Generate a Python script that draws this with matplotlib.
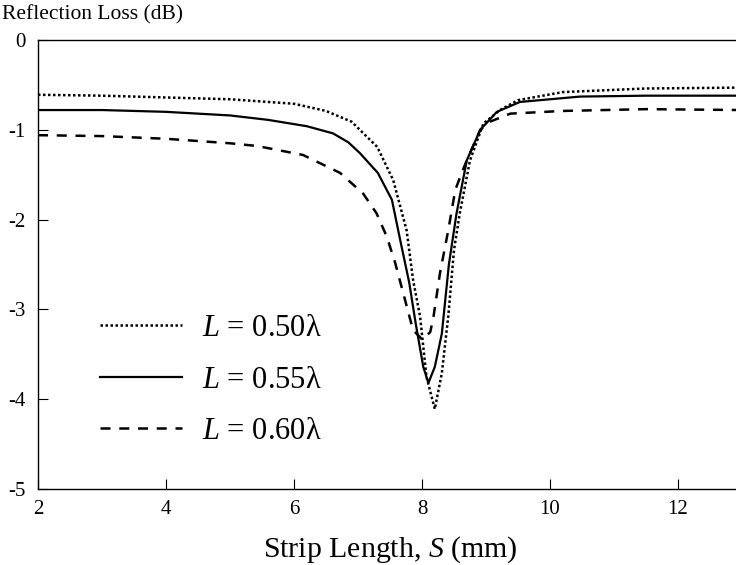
import matplotlib.pyplot as plt

plt.rcParams['font.family'] = ['Liberation Serif', 'DejaVu Serif']
plt.rcParams['mathtext.fontset'] = 'custom'
plt.rcParams['mathtext.rm'] = 'Liberation Serif'
plt.rcParams['mathtext.it'] = 'Liberation Serif:italic'
plt.rcParams['axes.unicode_minus'] = False

# strip length S (mm) and reflection loss (dB)
s_050 = [2, 3, 4, 5, 5.6, 6.0, 6.5, 6.9, 7.3, 7.55, 7.76, 7.86, 7.97, 8.07, 8.2,
         8.31, 8.41, 8.5, 8.59, 8.75, 8.96, 9.22, 9.5, 10.2, 11.5, 13]
rl_050 = [-0.61, -0.62, -0.64, -0.66, -0.69, -0.71, -0.79, -0.91, -1.19, -1.56, -2.12,
          -2.67, -3.08, -3.75, -4.11, -3.71, -3.08, -2.34, -1.93, -1.34, -0.93, -0.78,
          -0.67, -0.58, -0.54, -0.53]

s_055 = [2, 3, 4, 5, 5.6, 6.2, 6.61, 6.85, 7.03, 7.31, 7.53, 7.66, 7.8, 7.9, 8.02, 8.1,
         8.2, 8.31, 8.42, 8.54, 8.7, 8.91, 9.17, 9.53, 10.47, 11.5, 13]
rl_055 = [-0.78, -0.78, -0.80, -0.84, -0.89, -0.96, -1.04, -1.14, -1.26, -1.48, -1.78,
          -2.23, -2.70, -3.15, -3.64, -3.82, -3.64, -3.27, -2.5, -1.93, -1.34, -1.0,
          -0.80, -0.69, -0.63, -0.62, -0.62]

s_060 = [2, 3, 4, 5, 5.42, 6.14, 6.72, 7.08, 7.29, 7.45, 7.58, 7.86, 8.01, 8.13,
         8.18, 8.28, 8.41, 8.52, 8.62, 8.7, 8.91, 9.06, 9.38, 10.2, 11.5, 13]
rl_060 = [-1.06, -1.07, -1.10, -1.15, -1.18, -1.28, -1.48, -1.71, -1.93, -2.19, -2.48,
          -3.23, -3.34, -3.25, -3.08, -2.6, -2.12, -1.67, -1.48, -1.34, -1.0, -0.91,
          -0.82, -0.79, -0.77, -0.78]

labels = [r'$L$ = 0.50λ', r'$L$ = 0.55λ', r'$L$ = 0.60λ']
xticks = [2, 4, 6, 8, 10, 12]
yticks = [0, -1, -2, -3, -4, -5]

fig = plt.figure(figsize=(7.36, 5.65), dpi=100)
# axes runs a little past the right edge of the picture
ax = fig.add_axes([38 / 736, 76 / 565, 704 / 736, 449 / 565])

ax.plot(s_050, rl_050, color='black', linestyle=(0, (1, 1)), linewidth=1.8, label=labels[0])
ax.plot(s_055, rl_055, color='black', linestyle='-', linewidth=1.6, label=labels[1])
ax.plot(s_060, rl_060, color='black', linestyle=(0, (4, 3.5)), linewidth=1.8, label=labels[2])

ax.set_xlim(2, 13)
ax.set_ylim(-5, 0)
ax.set_xticks(xticks)
ax.set_yticks(yticks)
ax.set_xticklabels([str(v) for v in xticks])
ax.set_yticklabels([str(v) for v in yticks])
ax.tick_params(direction='in', length=7.5, width=0.8, labelsize=15, color='black')
ax.tick_params(axis='x', pad=8)
ax.tick_params(axis='y', pad=9)
for sp in ax.spines.values():
    sp.set_linewidth(1.0)

ax.set_xlabel(r'Strip Length, $S$ (mm)', fontsize=21.5, labelpad=11)
fig.text(0.003, 1 - 15 / 565, 'Reflection Loss (dB)', fontsize=15.5, va='center', ha='left')

ax.legend(loc='upper left', bbox_to_anchor=(0.088, 0.39), frameon=False, fontsize=22,
          handlelength=2.7, handletextpad=0.65, labelspacing=0.74, borderpad=0, borderaxespad=0)

fig.savefig('out.png', dpi=100)
